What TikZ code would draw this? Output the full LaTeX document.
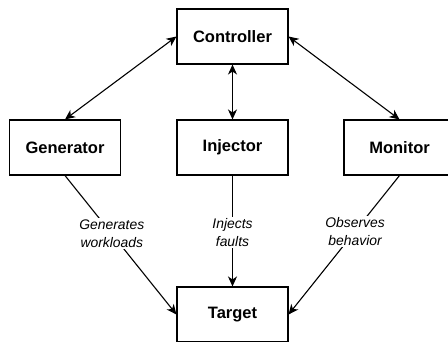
\documentclass[tikz,border=0pt]{standalone}
\usepackage{fontspec}
\setmainfont{Liberation Sans}
\usetikzlibrary{arrows.meta}
\begin{document}
\begin{tikzpicture}[x=1pt,y=-1pt,
  tip/.tip={Stealth[length=10pt,width=9pt,inset=3pt]},
  block/.style={draw, line width=1.1pt, minimum width=111pt, minimum height=55pt,
    inner sep=0pt, font=\fontsize{16.5}{20}\selectfont\bfseries},
  link/.style={line width=1.1pt, -tip},
  dlink/.style={line width=1.1pt, tip-tip},
  lbl/.style={fill=white, align=center, inner sep=1.5pt,
    font=\fontsize{13.9}{18}\selectfont\itshape}]
  \useasboundingbox (0,0) rectangle (448,342);
  \fill[white] (0,0) rectangle (448,342);
  % components
  \node[block] (ctrl) at (232.5,36.5) {Controller};
  \node[block] (gen)  at (65,147.5)   {Generator};
  \node[block] (inj)  at (232.5,147.5) {Injector};
  \node[block] (mon)  at (399.5,147.5) {Monitor};
  \node[block] (tgt)  at (232.5,314.5) {Target};
  % control links
  \draw[dlink] (ctrl.west) -- (gen.north);
  \draw[dlink] (ctrl.south) -- (inj.north);
  \draw[dlink] (ctrl.east) -- (mon.north);
  % actions on the target
  \draw[link] (gen.south) -- node[lbl, pos=0.42] {Generates\\workloads} (tgt.west);
  \draw[link] (inj.south) -- node[lbl, pos=0.51] {Injects\\faults} (tgt.north);
  \draw[link] (mon.south) -- node[lbl, pos=0.40] {Observes\\behavior} (tgt.east);
\end{tikzpicture}
\end{document}
